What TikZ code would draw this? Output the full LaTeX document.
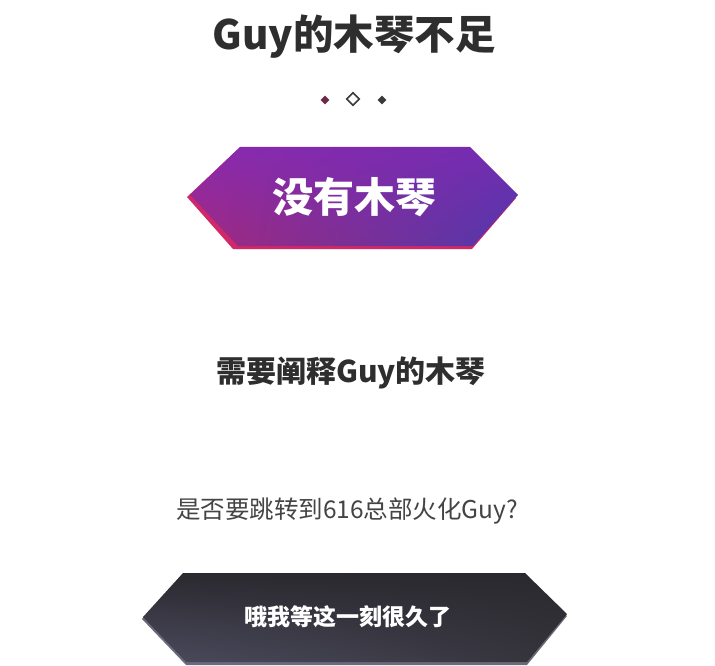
\documentclass[tikz,border=0pt]{standalone}
\usepackage{fontspec}
\newfontfamily\cjk{Noto Sans CJK SC}
\usetikzlibrary{shapes.geometric,shadings}
\definecolor{titlegray}{HTML}{2E2E2E}
\definecolor{textgray}{HTML}{444444}
\definecolor{dotred}{HTML}{6A2A48}
\definecolor{dotgray}{HTML}{3A3A3A}
\definecolor{pulA}{HTML}{8A2AAE}
\definecolor{pulB}{HTML}{742CB0}
\definecolor{pulC}{HTML}{A4287E}
\definecolor{pulD}{HTML}{5038AC}
\definecolor{pulEdge}{HTML}{D02868}
\definecolor{darkA}{HTML}{2A292F}
\definecolor{darkB}{HTML}{34333A}
\definecolor{darkC}{HTML}{4C4B5E}
\definecolor{darkEdge}{HTML}{6A6A7A}
\tikzset{
  titletext/.style={font=\cjk\bfseries\fontsize{40.5}{40.5}\selectfont, text=titlegray, inner sep=0pt},
  subtext/.style={font=\cjk\bfseries\fontsize{30}{30}\selectfont, text=titlegray, inner sep=0pt},
  qtext/.style={font=\cjk\fontsize{24.5}{24.5}\selectfont, text=textgray, inner sep=0pt},
  btntext/.style={font=\cjk\bfseries\fontsize{41}{41}\selectfont, text=white, inner sep=0pt},
  dbtntext/.style={font=\cjk\bfseries\fontsize{23}{23}\selectfont, text=white, inner sep=0pt},
  dotmark/.style={diamond, minimum width=9pt, minimum height=9pt, inner sep=0pt},
}
\begin{document}
\begin{tikzpicture}[x=1pt,y=-1pt]
\useasboundingbox (0,0) rectangle (715,666);
\fill[white] (0,0) rectangle (715,666);
% title
\node[titletext] (title) at (354,37) {Guy的木琴不足};
% diamonds
\node[dotmark, fill=dotred] (dl) at (325,100) {};
\node[diamond, draw=dotgray, line width=1.6pt, minimum width=13pt, minimum height=13pt, inner sep=0pt] (dc) at (353,99) {};
\node[dotmark, fill=dotgray] (dr) at (382,100) {};
% purple button
\fill[pulEdge] (187,197) -- (237,150) -- (470,150) -- (516,198) -- (472,249) -- (233,249) -- cycle;
\shade[upper left=pulA, upper right=pulB, lower left=pulC, lower right=pulD]
  (190,195) -- (240,147) -- (470,147) -- (518,195) -- (473,246) -- (238,246) -- cycle;
\node[btntext] (pbtn) at (354,197) {没有木琴};
% middle texts
\node[subtext] (sub) at (351,373) {需要阐释Guy的木琴};
\node[qtext] (q) at (347,511) {是否要跳转到616总部火化Guy?};
% dark button
\fill[darkEdge] (142,619) -- (184,575) -- (525,575) -- (567,616) -- (527,665) -- (186,665) -- cycle;
\shade[upper left=darkA, upper right=darkA, lower left=darkC, lower right=darkB]
  (143,617) -- (183,573) -- (525,573) -- (567,614) -- (527,662) -- (186,662) -- cycle;
\node[dbtntext] (dbtn) at (348,617) {哦我等这一刻很久了};
\end{tikzpicture}
\end{document}
